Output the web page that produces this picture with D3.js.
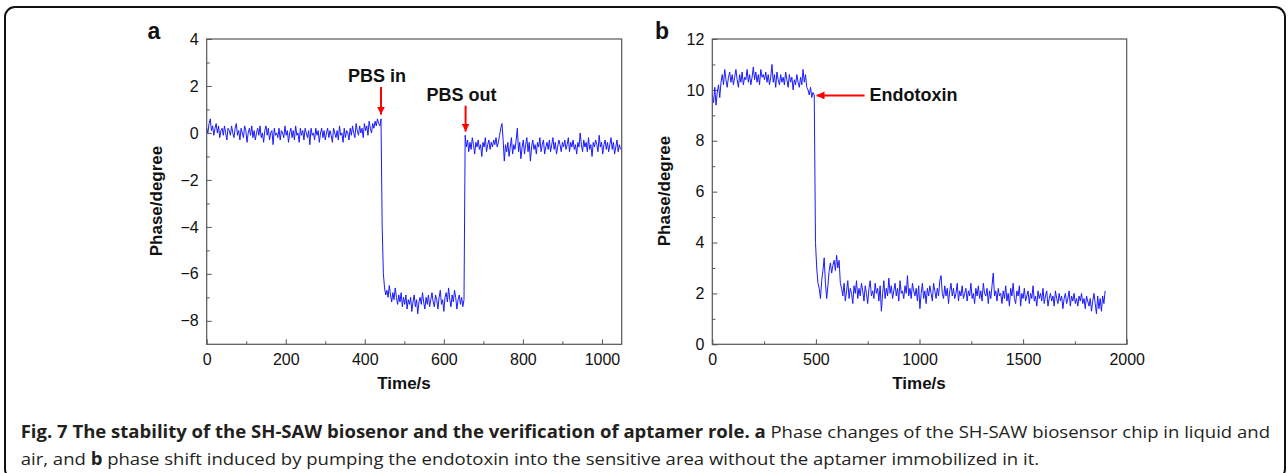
<!DOCTYPE html>
<html>
<head>
<meta charset="utf-8">
<script src="https://cdn.jsdelivr.net/npm/d3@7"></script>
<style>
body { margin: 0; background: #fff; }
svg { display: block; font-family: "Liberation Sans", Arial, sans-serif; }
</style>
</head>
<body>
<div id="chart"></div>
<script>
// Panel a: phase in liquid / air, sampled every 3 s
const stepA = 3;
const phaseA = [
  // 0 - 441 s, air
  0.2, 0.0, 0.4, 0.6, 0.1, 0.3, -0.1, 0.2, 0.4, 0.0,
  0.3, -0.2, 0.1, 0.2, -0.1, 0.3, 0.0, -0.3, 0.2, 0.1,
  -0.1, 0.3, 0.0, -0.2, 0.2, 0.4, -0.1, 0.1, -0.3, 0.2,
  0.0, -0.2, 0.3, 0.1, -0.4, 0.0, 0.2, -0.1, 0.3, -0.2,
  0.1, -0.3, 0.0, 0.2, -0.1, 0.3, -0.2, 0.0, -0.4, 0.1,
  0.3, -0.1, 0.2, -0.3, 0.0, 0.1, -0.5, 0.2, -0.1, 0.0,
  -0.2, 0.2, -0.3, 0.1, 0.0, -0.2, 0.3, -0.1, 0.1, -0.4,
  0.0, 0.2, -0.2, 0.1, -0.3, 0.3, -0.1, 0.0, -0.4, 0.2,
  -0.1, 0.1, -0.3, 0.2, 0.0, -0.2, 0.1, -0.5, 0.2, -0.1,
  0.0, -0.3, 0.2, -0.1, 0.1, -0.4, 0.0, 0.2, -0.2, 0.1,
  -0.3, 0.0, 0.2, -0.2, 0.1, -0.1, -0.4, 0.2, 0.0, -0.2,
  0.1, -0.3, 0.3, -0.1, 0.0, -0.4, 0.2, -0.2, 0.1, 0.0,
  -0.3, 0.2, -0.1, 0.3, 0.0, -0.2, 0.4, 0.1, -0.1, 0.3,
  0.0, 0.2, -0.2, 0.4, 0.1, 0.3, -0.1, 0.5, 0.2, 0.0,
  0.4, 0.2, 0.5, 0.3, 0.6, 0.4, 0.3, 0.6,
  // PBS in
  -4.0, -6.0, -6.6, -6.9,
  -6.7, -7.0, -6.5, -6.9, -7.2, -6.8, -7.1, -6.6, -7.0, -7.3,
  -6.9, -7.2, -6.8, -7.4, -7.0, -7.3, -6.9, -7.5, -7.1, -7.3,
  -7.0, -7.6, -7.2, -6.9, -7.4, -7.1, -7.7, -7.2, -7.0, -7.3,
  -6.8, -7.2, -7.5, -7.0, -7.3, -6.9, -7.4, -7.1, -6.8, -7.2,
  -7.4, -6.9, -7.1, -7.5, -7.0, -6.7, -7.3, -7.1, -7.6, -7.0,
  -6.8, -7.2, -6.6, -7.1, -7.4, -6.9, -7.2, -6.7, -7.0, -7.5,
  -7.1, -6.9, -7.3, -7.0, -7.4,
  // PBS out
  -7.1, -0.1,
  -0.6, -0.3, -0.8, -0.4, -0.7, -0.2, -0.5, -0.9, -0.4, -0.6,
  -0.3, -0.7, -0.5, -1.0, -0.4, -0.6, -0.2, -0.8, -0.5, -0.3,
  -0.7, -0.4, -0.6, -0.3, -0.5, -0.2, -0.6, -0.4, -0.1, 0.2,
  0.4, -0.3, -1.2, -0.5, -0.8, -0.4, -1.0, -0.6, -0.2, -0.9,
  -0.5, -0.7, -0.3, 0.2, -0.8, -0.4, -1.1, -0.6, -0.3, -0.9,
  -0.5, -0.2, -0.8, -0.4, -1.2, -0.6, -0.3, -0.7, -0.5, -0.9,
  -0.4, -0.6, -0.2, -0.8, -0.5, -0.3, -0.9, -0.6, -0.4, -0.7,
  -0.3, -0.8, -0.5, -0.2, -0.7, -0.4, -0.9, -0.6, -0.3, -0.5,
  -0.8, -0.4, -0.6, -0.3, -0.7, -0.5, -0.2, -0.8, -0.4, -0.6,
  -0.3, -0.7, -0.5, -0.9, -0.4, -0.6, 0.0, -0.5, -0.8, -0.3,
  -0.6, -0.4, -0.8, -0.2, -0.7, -0.5, -1.0, -0.4, -0.6, -0.3,
  -0.5, -0.8, -0.1, -0.6, -0.4, -0.9, -0.5, -0.3, -0.7, -0.4,
  -0.8, -0.5, -0.2, -0.7, -0.4, -0.9, -0.6, -0.3, -0.8, -0.5,
  -0.7
];

// Panel b: endotoxin without aptamer, sampled every 6 s
const stepB = 6;
const phaseB = [
  9.8, 9.5, 10.1, 9.4, 9.9, 10.2, 9.7,
  10.3, 10.6, 10.2, 10.8, 10.4, 10.1, 10.5, 10.7, 10.3, 10.6,
  10.2, 10.5, 10.8, 10.4, 10.1, 10.6, 10.3, 10.7, 10.2, 10.5,
  10.4, 10.8, 10.3, 10.6, 10.2, 10.5, 10.9, 10.4, 10.7, 10.3,
  10.6, 10.2, 10.8, 10.5, 10.6, 10.4, 10.7, 10.3, 10.6, 10.2,
  10.5, 11.0, 10.3, 10.6, 10.1, 10.7, 10.4, 10.2, 10.6, 10.3,
  10.5, 10.2, 10.7, 10.4, 10.1, 10.6, 10.3, 10.5, 10.0, 10.4,
  10.2, 10.6, 10.3, 10.1, 10.5, 10.2, 10.8, 10.3, 10.6, 10.1,
  10.0, 9.8, 10.1, 9.7, 9.9, 9.8,
  // endotoxin pumped in
  4.0,
  3.0, 2.4, 2.2, 1.8, 2.5, 2.9, 3.4, 2.4, 1.8, 2.3,
  2.9, 3.2, 2.8, 3.1, 3.3, 2.9, 3.5, 3.0, 3.3, 2.4,
  2.2, 1.9, 2.4, 1.7, 2.1, 2.5, 1.8, 2.2, 2.0, 1.6,
  2.3, 2.0, 2.5, 1.8, 2.2, 1.9, 2.4, 2.1, 1.7, 2.3,
  2.0, 1.6, 2.2, 2.5, 1.9, 2.1, 1.8, 2.4, 2.0, 2.2,
  1.7, 2.3, 1.3, 2.0, 2.5, 1.8, 2.2, 1.9, 2.6, 2.0,
  2.3, 1.8, 2.1, 2.4, 1.9, 2.2, 1.7, 2.5, 2.0, 2.1,
  1.8, 2.3, 2.0, 2.7, 1.9, 2.2, 1.8, 2.4, 2.1, 1.9,
  2.2, 1.7, 2.3, 1.4, 2.0, 2.4, 1.8, 2.1, 1.6, 2.2,
  1.9, 2.3, 2.0, 1.7, 2.4, 2.1, 1.8, 2.2, 1.9, 2.5,
  2.7, 2.0, 1.8, 2.3, 1.9, 2.2, 1.6, 2.1, 2.4, 1.9,
  2.2, 1.8, 2.0, 2.4, 1.7, 2.1, 1.9, 2.3, 1.8, 2.0,
  2.2, 1.7, 2.1, 1.9, 2.4, 1.8, 2.0, 1.6, 2.2, 1.9,
  2.3, 1.8, 2.1, 1.7, 2.4, 2.0, 1.9, 2.2, 1.6, 2.1,
  1.8, 2.3, 2.8, 1.9, 2.1, 1.7, 2.2, 1.9, 2.0, 1.6,
  2.1, 1.8, 2.3, 1.7, 2.0, 1.5, 2.2, 1.9, 2.4, 1.8,
  1.6, 2.1, 1.9, 2.3, 1.5, 2.0, 1.8, 2.2, 1.7, 1.9,
  2.1, 1.6, 2.0, 1.8, 2.3, 1.7, 1.9, 1.5, 2.1, 1.8,
  2.0, 1.7, 2.2, 1.6, 1.9, 2.1, 1.5, 1.8, 2.0, 1.7,
  1.9, 1.5, 2.1, 1.8, 1.6, 2.0, 1.7, 1.9, 1.4, 1.8,
  2.0, 1.6, 1.8, 2.1, 1.5, 1.9, 1.7, 2.0, 1.6, 1.8,
  1.5, 1.9, 1.7, 2.0, 1.6, 1.8, 1.4, 1.9, 1.7, 1.5,
  1.8, 1.3, 1.7, 2.0, 1.6, 1.2, 1.9, 1.4, 1.8, 1.3,
  1.9, 1.6, 2.1
];

// Axis ticks
const xMajorA = [0, 200, 400, 600, 800, 1000];
const xMinorA = [100, 300, 500, 700, 900];
const yMajorA = [4, 2, 0, -2, -4, -6, -8];
const yMinorA = [3, 1, -1, -3, -5, -7];
const xMajorB = [0, 500, 1000, 1500, 2000];
const xMinorB = [250, 750, 1250, 1750];
const yMajorB = [0, 2, 4, 6, 8, 10, 12];
const yMinorB = [1, 3, 5, 7, 9, 11];

// Annotations
const notesA = [
  { label: "PBS in", t: 441, from: 1.96, to: 0.78, text: 2.19 },
  { label: "PBS out", t: 655, from: 1.16, to: 0.06, text: 1.34 }
];
const noteB = { label: "Endotoxin", v: 9.78, from: 735, to: 503, text: 759 };

const width = 1288, height = 473;

const svg = d3.select("#chart").append("svg")
    .attr("width", width)
    .attr("height", height);

// Rounded outer frame
svg.append("rect")
    .attr("x", 5).attr("y", 7)
    .attr("width", 1280).attr("height", 472)
    .attr("rx", 10)
    .attr("fill", "none")
    .attr("stroke", "#111")
    .attr("stroke-width", 2);

const defs = svg.append("defs");
defs.append("marker")
    .attr("id", "arrow")
    .attr("viewBox", "0 0 10 10")
    .attr("refX", 10).attr("refY", 5)
    .attr("markerWidth", 4).attr("markerHeight", 4)
    .attr("markerUnits", "strokeWidth")
    .attr("orient", "auto")
    .append("path")
    .attr("d", "M0,0 L10,5 L0,10 Z")
    .attr("fill", "#ff0000");

function drawPanel(opt) {
    const x = d3.scaleLinear().domain(opt.xDomain).range([opt.left, opt.right]);
    const y = d3.scaleLinear().domain(opt.yDomain).range([opt.bottom, opt.top]);
    const g = svg.append("g");

    // minor ticks
    g.append("g")
        .attr("transform", `translate(0,${opt.bottom})`)
        .call(d3.axisBottom(x).tickValues(opt.xMinor).tickSize(-3).tickFormat(""))
        .call(a => a.select(".domain").remove());
    g.append("g")
        .attr("transform", `translate(${opt.left},0)`)
        .call(d3.axisLeft(y).tickValues(opt.yMinor).tickSize(-3).tickFormat(""))
        .call(a => a.select(".domain").remove());

    // major ticks
    const xa = g.append("g")
        .attr("transform", `translate(0,${opt.bottom})`)
        .call(d3.axisBottom(x).tickValues(opt.xMajor).tickSize(-5).tickPadding(9).tickFormat(d3.format("d")));
    const ya = g.append("g")
        .attr("transform", `translate(${opt.left},0)`)
        .call(d3.axisLeft(y).tickValues(opt.yMajor).tickSize(-5).tickPadding(8).tickFormat(d3.format("d")));
    [xa, ya].forEach(a => {
        a.select(".domain").remove();
        a.selectAll("text")
            .attr("font-size", 16)
            .attr("font-family", "'Liberation Sans', Arial, sans-serif")
            .attr("fill", "#111");
    });
    g.selectAll(".tick line").attr("stroke", "#555");

    // data line
    const line = d3.line()
        .x((d, i) => x(i * opt.step))
        .y(d => y(d));
    g.append("path")
        .datum(opt.values)
        .attr("fill", "none")
        .attr("stroke", "#1a1aff")
        .attr("stroke-width", 1)
        .attr("stroke-linejoin", "round")
        .attr("d", line);

    // plot box
    g.append("rect")
        .attr("x", opt.left).attr("y", opt.top)
        .attr("width", opt.right - opt.left)
        .attr("height", opt.bottom - opt.top)
        .attr("fill", "none")
        .attr("stroke", "#555")
        .attr("stroke-width", 1.2);

    // axis titles
    g.append("text")
        .attr("x", opt.xTitleX).attr("y", 389)
        .attr("text-anchor", "middle")
        .attr("font-size", 17).attr("font-weight", "bold")
        .attr("fill", "#111")
        .text("Time/s");
    g.append("text")
        .attr("transform", `translate(${opt.yTitleX},${opt.yTitleY}) rotate(-90)`)
        .attr("text-anchor", "middle")
        .attr("font-size", 17).attr("font-weight", "bold")
        .attr("fill", "#111")
        .text("Phase/degree");

    // panel letter
    g.append("text")
        .attr("x", opt.letterX).attr("y", 39)
        .attr("text-anchor", "middle")
        .attr("font-size", 23).attr("font-weight", "bold")
        .attr("fill", "#111")
        .text(opt.letter);

    return { x, y, g };
}

const pa = drawPanel({
    left: 206.7, right: 621.7, top: 39, bottom: 344.3,
    xDomain: [0, 1050], yDomain: [-9, 4],
    xMajor: xMajorA, xMinor: xMinorA, yMajor: yMajorA, yMinor: yMinorA,
    step: stepA, values: phaseA,
    xTitleX: 404, yTitleX: 162, yTitleY: 201,
    letter: "a", letterX: 154
});

const pb = drawPanel({
    left: 712.3, right: 1126.7, top: 39, bottom: 344.3,
    xDomain: [0, 2000], yDomain: [0, 12],
    xMajor: xMajorB, xMinor: xMinorB, yMajor: yMajorB, yMinor: yMinorB,
    step: stepB, values: phaseB,
    xTitleX: 919, yTitleX: 670, yTitleY: 191,
    letter: "b", letterX: 662
});

// annotations, panel a
notesA.forEach(n => {
    pa.g.append("line")
        .attr("x1", pa.x(n.t)).attr("x2", pa.x(n.t))
        .attr("y1", pa.y(n.from)).attr("y2", pa.y(n.to))
        .attr("stroke", "#ff0000").attr("stroke-width", 2)
        .attr("marker-end", "url(#arrow)");
    pa.g.append("text")
        .attr("x", pa.x(n.t) - 4).attr("y", pa.y(n.text))
        .attr("text-anchor", "middle")
        .attr("font-size", 18).attr("font-weight", "bold")
        .attr("fill", "#111")
        .text(n.label);
});

// annotation, panel b
pb.g.append("line")
    .attr("x1", pb.x(noteB.from)).attr("x2", pb.x(noteB.to))
    .attr("y1", pb.y(noteB.v)).attr("y2", pb.y(noteB.v))
    .attr("stroke", "#ff0000").attr("stroke-width", 2)
    .attr("marker-end", "url(#arrow)");
pb.g.append("text")
    .attr("x", pb.x(noteB.text)).attr("y", pb.y(noteB.v) + 6)
    .attr("font-size", 18).attr("font-weight", "bold")
    .attr("fill", "#111")
    .text(noteB.label);

// caption
const cap = svg.append("g")
    .attr("font-family", "'Open Sans', 'Noto Sans', sans-serif")
    .attr("font-size", 17)
    .attr("fill", "#231f20");
const l1 = cap.append("text").attr("x", 0).attr("y", 0);
l1.append("tspan").attr("font-weight", "bold")
    .text("Fig. 7 The stability of the SH-SAW biosenor and the verification of aptamer role. a");
l1.append("tspan")
    .text(" Phase changes of the SH-SAW biosensor chip in liquid and");
const l2 = cap.append("text").attr("x", 0).attr("y", 27);
l2.append("tspan").text("air, and ");
l2.append("tspan").attr("font-weight", "bold").text("b");
l2.append("tspan")
    .text(" phase shift induced by pumping the endotoxin into the sensitive area without the aptamer immobilized in it.");
const natural = l1.node().getComputedTextLength();
const sx = 1251 / natural;
cap.attr("transform", `translate(20.7,438) scale(${sx},1)`);
</script>
</body>
</html>
